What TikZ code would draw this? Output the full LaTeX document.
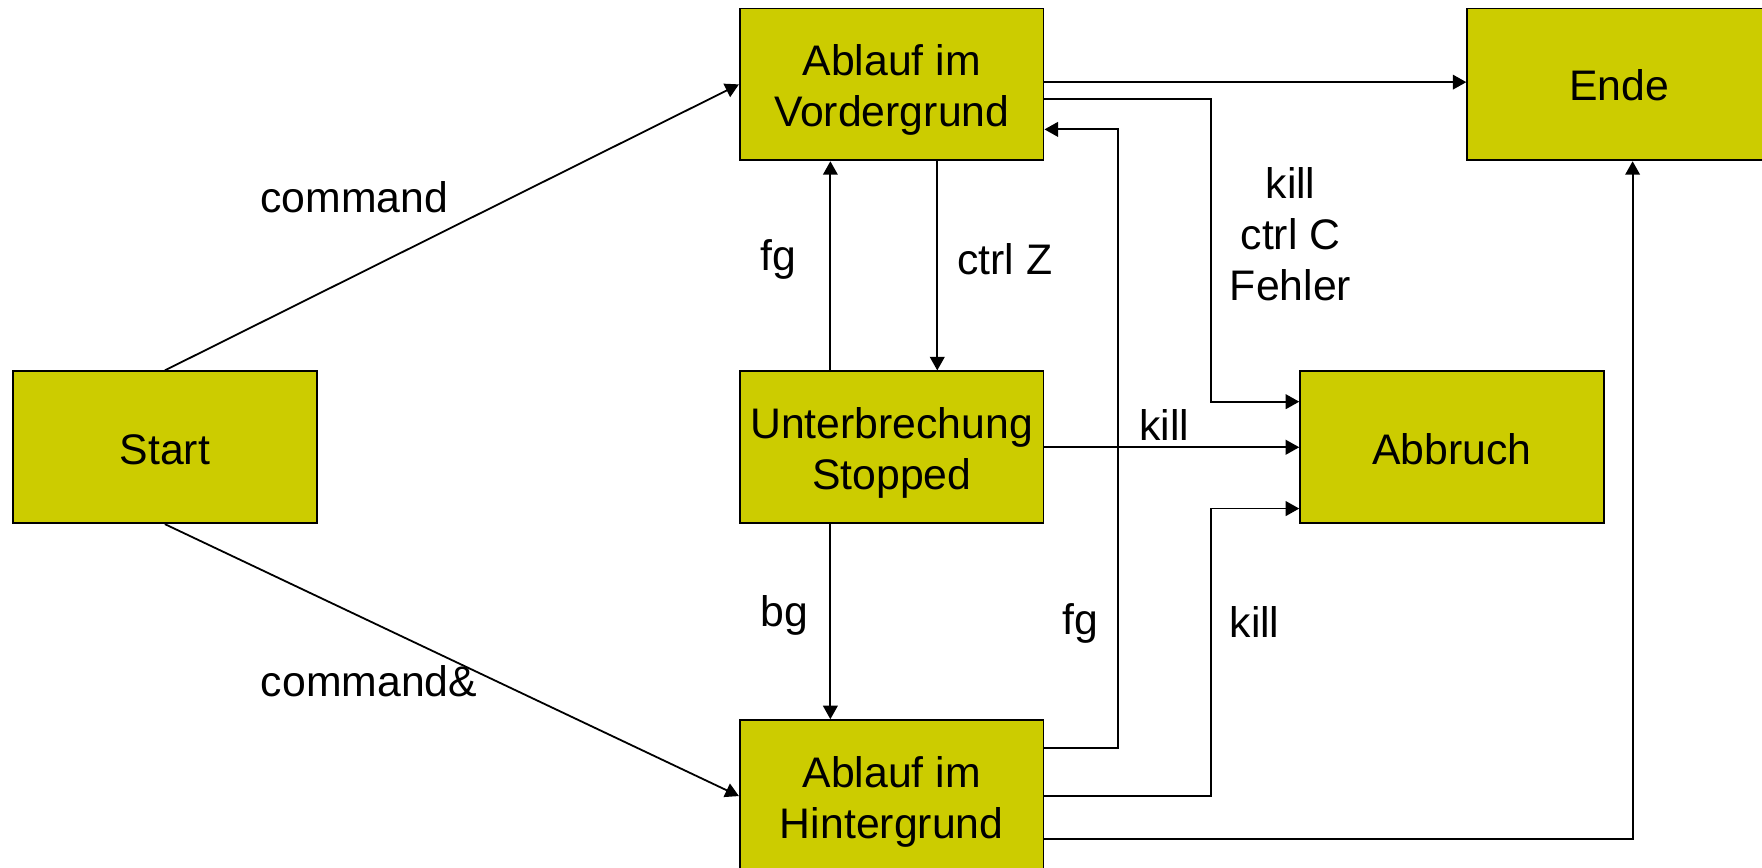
\documentclass[tikz,border=0pt]{standalone}
\usepackage{fontspec}
\setmainfont{Liberation Sans}
\usetikzlibrary{arrows.meta}
\definecolor{boxfill}{HTML}{CCCC00}
\begin{document}
\begin{tikzpicture}[x=1pt,y=-1pt,
  state/.style={draw=black,line width=1.6pt,fill=boxfill,minimum width=270pt,minimum height=135pt,align=center,inner sep=0pt},
  lbl/.style={align=center,inner sep=0pt,font=\fontsize{38}{45.5}\selectfont},
  conn/.style={line width=1.6pt,-{Triangle[length=12pt,width=13pt]}}]
\useasboundingbox (0,0) rectangle (1566,771);
\clip (0,0) rectangle (1566,771);
\fill[white] (0,0) rectangle (1566,771);
\node[state,label={[lbl,yshift=-2pt]center:Start}] (S) at (146.5,397.5) {};
\node[state,label={[lbl,yshift=-5pt]center:{Ablauf im\\Vordergrund}}] (V) at (792.5,75) {};
\node[state,label={[lbl,yshift=-5pt]center:{Unterbrechung\\Stopped}}] (U) at (792.5,397.5) {};
\node[state,label={[lbl,yshift=-5pt]center:{Ablauf im\\Hintergrund}}] (H) at (792.5,707.5) {};
\node[state,label={[lbl,yshift=-1pt]center:Ende}] (E) at (1439,75) {};
\node[state,label={[lbl,yshift=-2pt]center:Abbruch}] (A) at (1290.5,397.5) {};
\draw[conn] (S.north) -- (V.west);
\draw[conn] (S.south) -- (H.west);
\draw[conn] ([xshift=-54.5pt]U.north) -- ([xshift=-54.5pt]V.south);
\draw[conn] ([xshift=40.5pt]V.south) -- ([xshift=40.5pt]U.north);
\draw[conn] ([xshift=-54.5pt]U.south) -- ([xshift=-54.5pt]H.north);
\draw[conn] ([yshift=42.5pt]H.east) -- ++(65.5,0) |- ([yshift=-40pt]V.east);
\draw[conn] ([yshift=2pt]V.east) -- ([yshift=2pt]E.west);
\draw[conn] ([yshift=-13pt]V.east) -- ++(148,0) |- ([yshift=40.5pt]A.west);
\draw[conn] (U.east) -- (A.west);
\draw[conn] (H.east) -- ++(148,0) |- ([yshift=-54.5pt]A.west);
\draw[conn] ([yshift=-38.5pt]H.east) -| ([xshift=12pt]E.south);
\node[lbl] (l1) at (315,175) {command};
\node[lbl] (l2) at (328,605) {command\&};
\node[lbl] (l3) at (692,231) {fg};
\node[lbl] (l4) at (893,230) {ctrl Z};
\node[lbl] (l5) at (697,547) {bg};
\node[lbl] (l6) at (960,554) {fg};
\node[lbl] (l7) at (1035,378) {kill};
\node[lbl] (l8) at (1147,208) {kill\\ctrl C\\Fehler};
\node[lbl] (l9) at (1115,553) {kill};
\end{tikzpicture}
\end{document}
